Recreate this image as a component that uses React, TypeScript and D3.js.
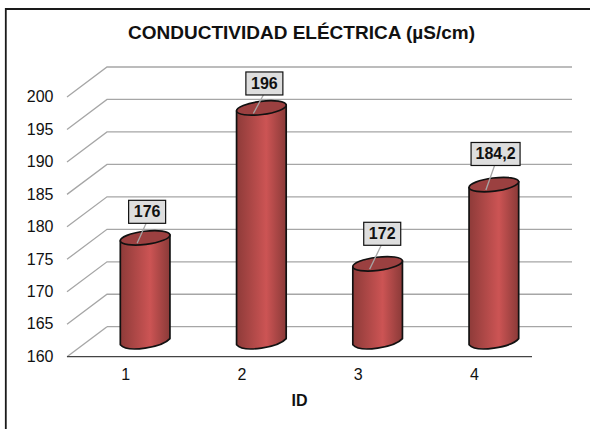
import React, { useEffect, useRef } from "react";
import * as d3 from "d3";

const categories = ["1", "2", "3", "4"];
const values = [176, 196, 172, 184.2];
const valueLabels = ["176", "196", "172", "184,2"];
const yTicks = [160, 165, 170, 175, 180, 185, 190, 195, 200];

const width = 590;
const height = 429;
const depth = { x: 40, y: -30 };
// hand-placed data label boxes, relative to the top of each cylinder
const labelOffsets = [
  [2, -26],
  [3, -24.5],
  [4.6, -30],
  [1.7, -30.6],
];

function App() {
  const ref = useRef<SVGSVGElement>(null);

  useEffect(() => {
    const root = d3.select(ref.current);
    root.selectAll("*").remove();

    const svg = root.append("g");
    const font = "'Liberation Sans', Arial, sans-serif";

    const x = d3.scaleBand().domain(categories).range([67, 532]);
    const y = d3.scaleLinear().domain([160, 200]).range([356.7, 97]);

    const defs = root.append("defs");
    const grad = defs
      .append("linearGradient")
      .attr("id", "cyl")
      .attr("x1", "0")
      .attr("x2", "1")
      .attr("y1", "0")
      .attr("y2", "0");
    grad.append("stop").attr("offset", "0").attr("stop-color", "#8e3b39");
    grad.append("stop").attr("offset", "0.6").attr("stop-color", "#cc5454");
    grad.append("stop").attr("offset", "1").attr("stop-color", "#8a3a38");

    // frame: only the left and top edges show in the picture
    svg
      .append("path")
      .attr("d", d3.line()([[5.8, 429], [5.8, 9], [590, 9]]))
      .attr("fill", "none")
      .attr("stroke", "#1a1a1a")
      .attr("stroke-width", 1.8);

    svg
      .append("text")
      .attr("x", 301.5)
      .attr("y", 39)
      .attr("text-anchor", "middle")
      .attr("font-family", font)
      .attr("font-weight", "bold")
      .attr("font-size", 19)
      .attr("fill", "#111")
      .text("CONDUCTIVIDAD ELÉCTRICA (µS/cm)");

    // gridlines: front edge, then back wall
    yTicks.forEach((t) => {
      const yy = y(t);
      const line = d3.line();
      const pts: [number, number][] =
        t === 160
          ? [
              [67, yy],
              [67 + depth.x, yy + depth.y],
            ]
          : [
              [67, yy],
              [67 + depth.x, yy + depth.y],
              [532 + depth.x, yy + depth.y],
            ];
      svg
        .append("path")
        .attr("d", line(pts))
        .attr("fill", "none")
        .attr("stroke", "#a6a6a6")
        .attr("stroke-width", 1.3);
      svg
        .append("text")
        .attr("x", 53.5)
        .attr("y", yy + 1)
        .attr("text-anchor", "end")
        .attr("dominant-baseline", "middle")
        .attr("font-family", font)
        .attr("font-size", 16)
        .attr("fill", "#111")
        .text(t);
    });

    // floor gridline at the back for 160
    svg
      .append("line")
      .attr("x1", 67 + depth.x)
      .attr("x2", 532 + depth.x)
      .attr("y1", y(160) + depth.y)
      .attr("y2", y(160) + depth.y)
      .attr("stroke", "#a6a6a6")
      .attr("stroke-width", 1.3);

    // front axis line
    svg
      .append("line")
      .attr("x1", 67)
      .attr("x2", 532)
      .attr("y1", y(160))
      .attr("y2", y(160))
      .attr("stroke", "#444")
      .attr("stroke-width", 1.2);

    const rx = 25;
    const ry = 6.6;
    const tilt = (-7 * Math.PI) / 180;
    const ex = rx * Math.cos(tilt);
    const ey = rx * Math.sin(tilt);

    categories.forEach((c, i) => {
      const cx = x(c)! + x.bandwidth() / 2;
      const center = cx + depth.x / 2;
      const topY = y(values[i]) + depth.y / 2;
      const baseY = y(160) + depth.y / 2;

      const body = d3.path();
      body.moveTo(center - ex, topY - ey);
      body.lineTo(center - ex, baseY - ey);
      // front half of the bottom ellipse
      body.bezierCurveTo(
        center - ex * 0.7,
        baseY - ey + ry * 1.3,
        center + ex * 0.7,
        baseY + ey + ry * 1.3,
        center + ex,
        baseY + ey
      );
      body.lineTo(center + ex, topY + ey);
      body.closePath();

      svg
        .append("path")
        .attr("d", body.toString())
        .attr("fill", "url(#cyl)")
        .attr("stroke", "#111")
        .attr("stroke-width", 1.7)
        .attr("stroke-linejoin", "round");

      svg
        .append("ellipse")
        .attr("cx", center)
        .attr("cy", topY)
        .attr("rx", rx)
        .attr("ry", ry)
        .attr("transform", `rotate(-7 ${center} ${topY})`)
        .attr("fill", "#9b4040")
        .attr("stroke", "#111")
        .attr("stroke-width", 1.7);

      // x tick label
      svg
        .append("text")
        .attr("x", cx + 0.5)
        .attr("y", 380)
        .attr("text-anchor", "middle")
        .attr("font-family", font)
        .attr("font-size", 16)
        .attr("fill", "#111")
        .text(c);

      // data label with its leader line
      const label = valueLabels[i];
      const w = label.length > 3 ? 49 : 37;
      const h = 23;
      const bx = center + labelOffsets[i][0] - w / 2;
      const by = topY + labelOffsets[i][1] - h / 2;

      svg
        .append("line")
        .attr("x1", center - 8)
        .attr("y1", topY + 5.5)
        .attr("x2", bx + w / 2 - 1)
        .attr("y2", by + h)
        .attr("stroke", "#a6a6a6")
        .attr("stroke-width", 1.3);

      svg
        .append("rect")
        .attr("x", bx)
        .attr("y", by)
        .attr("width", w)
        .attr("height", h)
        .attr("fill", "#dedede")
        .attr("stroke", "#111")
        .attr("stroke-width", 1.2);

      svg
        .append("text")
        .attr("x", bx + w / 2)
        .attr("y", by + h / 2 + 5.5)
        .attr("text-anchor", "middle")
        .attr("font-family", font)
        .attr("font-weight", "bold")
        .attr("font-size", 16)
        .attr("fill", "#111")
        .text(label);
    });

    svg
      .append("text")
      .attr("x", 299.5)
      .attr("y", 406)
      .attr("text-anchor", "middle")
      .attr("font-family", font)
      .attr("font-weight", "bold")
      .attr("font-size", 16)
      .attr("fill", "#111")
      .text("ID");
  }, []);

  return (
    <svg
      ref={ref}
      width={width}
      height={height}
      style={{ position: "absolute", left: 0, top: 0 }}
    />
  );
}

export default App;
